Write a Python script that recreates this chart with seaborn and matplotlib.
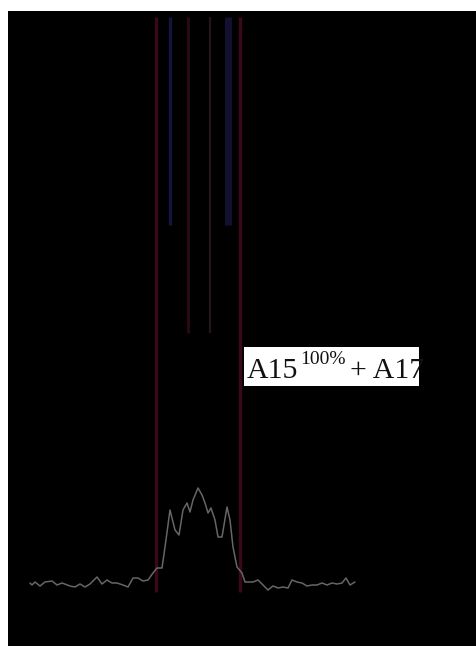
import matplotlib
matplotlib.use("Agg")
import matplotlib.pyplot as plt
import seaborn as sns
import pandas as pd
from matplotlib.patches import Rectangle

# spectrum trace (position, intensity)
pos = [30, 32, 35, 40, 45, 52, 57, 62, 70, 75, 80, 85, 90, 97, 102, 107, 112,
       117, 123, 128, 133, 138, 143, 148, 153, 157, 162, 165, 170, 175, 179,
       183, 187, 190, 193, 198, 202, 205, 208, 211, 215, 218, 222, 227, 230,
       233, 237, 242, 245, 247, 253, 258, 263, 268, 273, 278, 283, 288, 292,
       297, 302, 307, 312, 317, 322, 327, 332, 337, 342, 346, 350, 355]
intensity = [63, 61, 64, 60, 64, 65, 61, 63, 60, 59, 62, 59, 62, 69, 62, 66,
             63, 63, 61, 59, 68, 68, 65, 66, 73, 78, 78, 99, 136, 116, 111,
             136, 143, 134, 146, 158, 151, 143, 133, 138, 126, 109, 109, 139,
             126, 99, 79, 73, 64, 64, 64, 66, 61, 56, 60, 58, 59, 58, 66, 64,
             63, 60, 61, 61, 63, 61, 63, 62, 63, 68, 61, 64]

# marker lines: position, bottom, top
line_pos = [156, 170, 188, 210, 228, 240]
line_bottom = [54, 421, 313, 313, 421, 54]
line_top = [629, 629, 629, 629, 629, 629]
line_colors = ["#3a0816", "#15143f", "#2c0a15", "#221618", "#121230", "#3a0816"]
line_widths = [2.4, 2.4, 2.0, 1.6, 5.0, 2.4]

label_main = "A15"
label_sup = "100%"
label_rest = "+ A17"

sns.set_style("dark")
plt.rcParams["font.family"] = ["Liberation Serif", "DejaVu Serif"]

fig = plt.figure(figsize=(4.76, 6.46), dpi=100, facecolor="white")
ax = fig.add_axes([8 / 476, 0, 468 / 476, 635 / 646])
ax.set_facecolor("black")
ax.set_xlim(8, 476)
ax.set_ylim(0, 635)

ax.vlines(line_pos, line_bottom, line_top, colors=line_colors,
          linewidths=line_widths, zorder=1)

df = pd.DataFrame({"pos": pos, "intensity": intensity})
sns.lineplot(data=df, x="pos", y="intensity", ax=ax, color="#666666",
             linewidth=1.1, zorder=3)

box = Rectangle((244, 260), 175, 39, facecolor="white", edgecolor="none",
                zorder=4)
ax.add_patch(box)
t1 = ax.text(247, 268, label_main, fontsize=21.5, color="#111111", zorder=5)
t2 = ax.text(300, 282, label_sup, fontsize=14, color="#111111", zorder=5)
t3 = ax.text(350, 268, label_rest, fontsize=21.5, color="#111111", zorder=5)
for t in (t1, t2, t3):
    t.set_clip_path(box)

ax.set_xticks([])
ax.set_yticks([])
ax.set_xlabel("")
ax.set_ylabel("")
for s in ax.spines.values():
    s.set_visible(False)

fig.savefig("out.png", dpi=100, facecolor="white")
